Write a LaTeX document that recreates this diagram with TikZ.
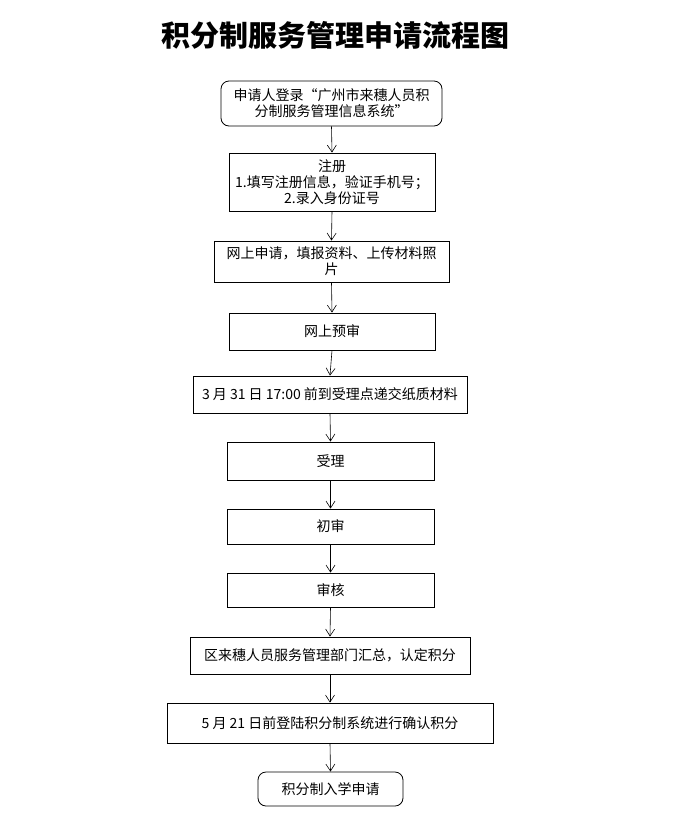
\documentclass[tikz,border=0pt]{standalone}
\usepackage{fontspec}
\newfontfamily\cjk{Noto Sans CJK SC}
\usetikzlibrary{arrows.meta}
\begin{document}
\begin{tikzpicture}[x=1pt,y=-1pt,
 box/.style={draw,line width=0.8pt,align=center,font=\cjk\fontsize{14}{16}\selectfont,inner sep=0pt},
 arr/.style={draw,line width=0.6pt,-{Straight Barb[length=7pt,width=9pt]}}]
\useasboundingbox (0,0) rectangle (673,831);
\node[font=\cjk\bfseries\fontsize{29}{32}\selectfont] (t) at (335,35) {积分制服务管理申请流程图};
\node[box,rounded corners=8pt,minimum width=221pt,minimum height=45pt] (b1) at (331.5,103.5) {申请人登录“广州市来穗人员积\\分制服务管理信息系统”};
\node[box,minimum width=206pt,minimum height=58pt] (b2) at (332,182) {注册\\1.填写注册信息，验证手机号；\\2.录入身份证号};
\node[box,minimum width=235pt,minimum height=41pt] (b3) at (331.5,261.5) {网上申请，填报资料、上传材料照\\片};
\node[box,minimum width=206pt,minimum height=37pt] (b4) at (332,331.5) {网上预审};
\node[box,minimum width=274pt,minimum height=37pt] (b5) at (330,394.5) {3 月 31 日 17:00 前到受理点递交纸质材料};
\node[box,minimum width=207pt,minimum height=38pt] (b6) at (330.5,461) {受理};
\node[box,minimum width=207pt,minimum height=35pt] (b7) at (330.5,526.5) {初审};
\node[box,minimum width=207pt,minimum height=34pt] (b8) at (330.5,590) {审核};
\node[box,minimum width=280pt,minimum height=37pt] (b9) at (330,655.5) {区来穗人员服务管理部门汇总，认定积分};
\node[box,minimum width=326pt,minimum height=40pt] (b10) at (330,723) {5 月 21 日前登陆积分制系统进行确认积分};
\node[box,rounded corners=8pt,minimum width=145pt,minimum height=34pt] (b11) at (330.5,789) {积分制入学申请};
\foreach \a/\b in {b1/b2,b2/b3,b3/b4,b4/b5,b5/b6,b6/b7,b7/b8,b8/b9,b9/b10,b10/b11}
 \draw[arr] (\a.south) -- (\b.north);
\end{tikzpicture}
\end{document}
